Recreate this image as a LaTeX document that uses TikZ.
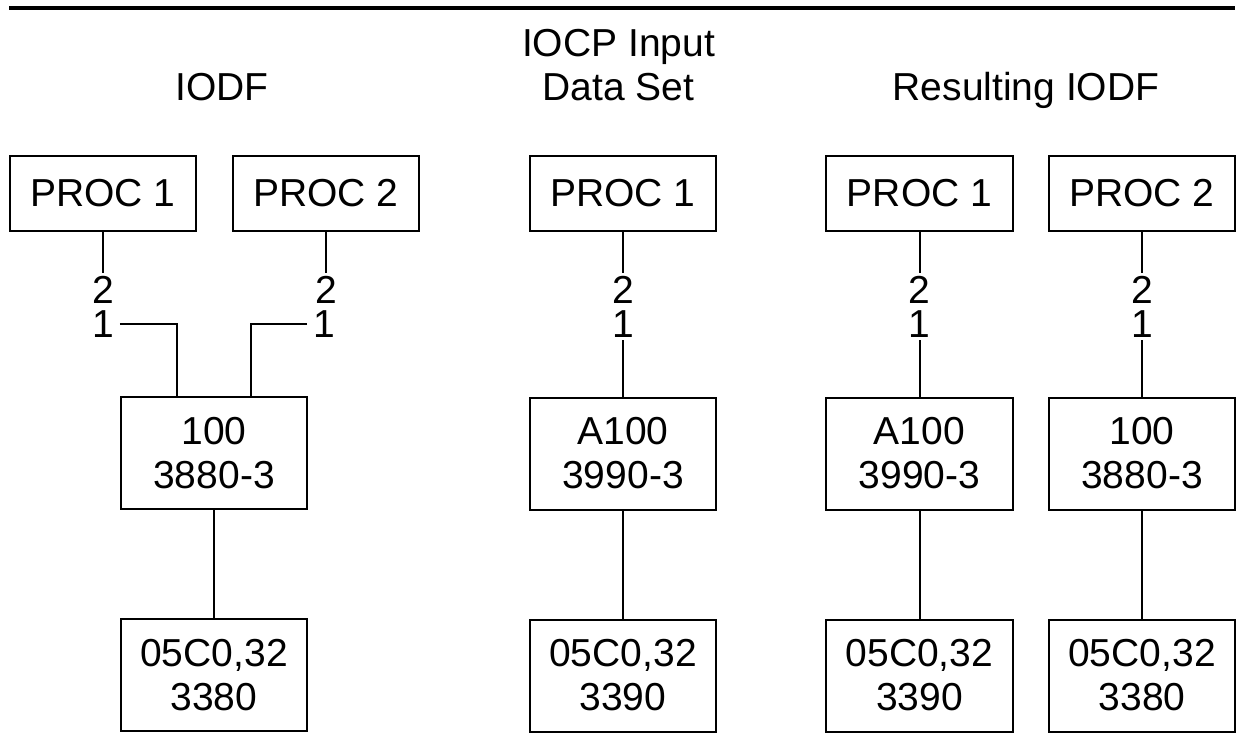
\documentclass[tikz,border=0pt]{standalone}
\usepackage{fontspec}
\setmainfont{Liberation Sans}
\usepackage{tikz}

\tikzset{
  box/.style={draw, line width=1pt, minimum width=93.25pt, inner sep=0pt, align=center},
  procbox/.style={box, minimum height=37.5pt},
  unitbox/.style={box, minimum height=56pt},
  portnum/.style={inner xsep=2.5pt, inner ysep=1pt, anchor=base},
  heading/.style={align=center, anchor=base}
}

\begin{document}
\begin{tikzpicture}[x=0.5pt,y=-0.5pt,line width=1pt,font=\fontsize{19.5}{22}\selectfont]
  \useasboundingbox (0,0) rectangle (1241,734);
  \draw[line width=2pt] (9,8) -- (1235,8);
  \begin{scope}
    \node[heading] (hiodf) at (222,100) {IODF};
    \node[procbox] (proca) at (103,193.5) {PROC 1};
    \node[procbox] (procb) at (326,193.5) {PROC 2};
    \node[portnum] (pa2) at (103,303) {2};
    \node[portnum] (pa1) at (103,337) {1};
    \node[portnum] (pb2) at (326,303) {2};
    \node[portnum] (pb1) at (324,337) {1};
    \node[unitbox] (cua) at (214,453) {100\\3880-3};
    \node[unitbox] (deva) at (214,675) {05C0,32\\3380};
    \draw (proca) -- (pa2);
    \draw (procb) -- (pb2);
    \draw (pa1.east) -| ([xshift=-18.5pt]cua.north);
    \draw (pb1.west) -| ([xshift=18.5pt]cua.north);
    \draw (cua) -- (deva);
  \end{scope}
  \begin{scope}
    \node[heading] (hiocp) at (618.5,100) {IOCP Input\\Data Set};
    \node[procbox] (procc) at (623,193.5) {PROC 1};
    \node[portnum] (pc2) at (623,303) {2};
    \node[portnum] (pc1) at (623,337) {1};
    \node[unitbox] (cub) at (623,453.5) {A100\\3990-3};
    \node[unitbox] (devb) at (623,675.5) {05C0,32\\3390};
    \draw (procc) -- (pc2);
    \draw (pc1) -- (cub);
    \draw (cub) -- (devb);
  \end{scope}
  \begin{scope}
    \node[heading] (hres) at (1026,100) {Resulting IODF};
    \node[procbox] (procd) at (919.5,193.5) {PROC 1};
    \node[procbox] (proce) at (1142,193.5) {PROC 2};
    \node[portnum] (pd2) at (919.5,303) {2};
    \node[portnum] (pd1) at (919.5,337) {1};
    \node[portnum] (pe2) at (1142,303) {2};
    \node[portnum] (pe1) at (1142,337) {1};
    \node[unitbox] (cuc) at (919.5,453.5) {A100\\3990-3};
    \node[unitbox] (cud) at (1142,453.5) {100\\3880-3};
    \node[unitbox] (devc) at (919.5,675.5) {05C0,32\\3390};
    \node[unitbox] (devd) at (1142,675.5) {05C0,32\\3380};
    \draw (procd) -- (pd2);
    \draw (proce) -- (pe2);
    \draw (pd1) -- (cuc);
    \draw (pe1) -- (cud);
    \draw (cuc) -- (devc);
    \draw (cud) -- (devd);
  \end{scope}
\end{tikzpicture}
\end{document}
